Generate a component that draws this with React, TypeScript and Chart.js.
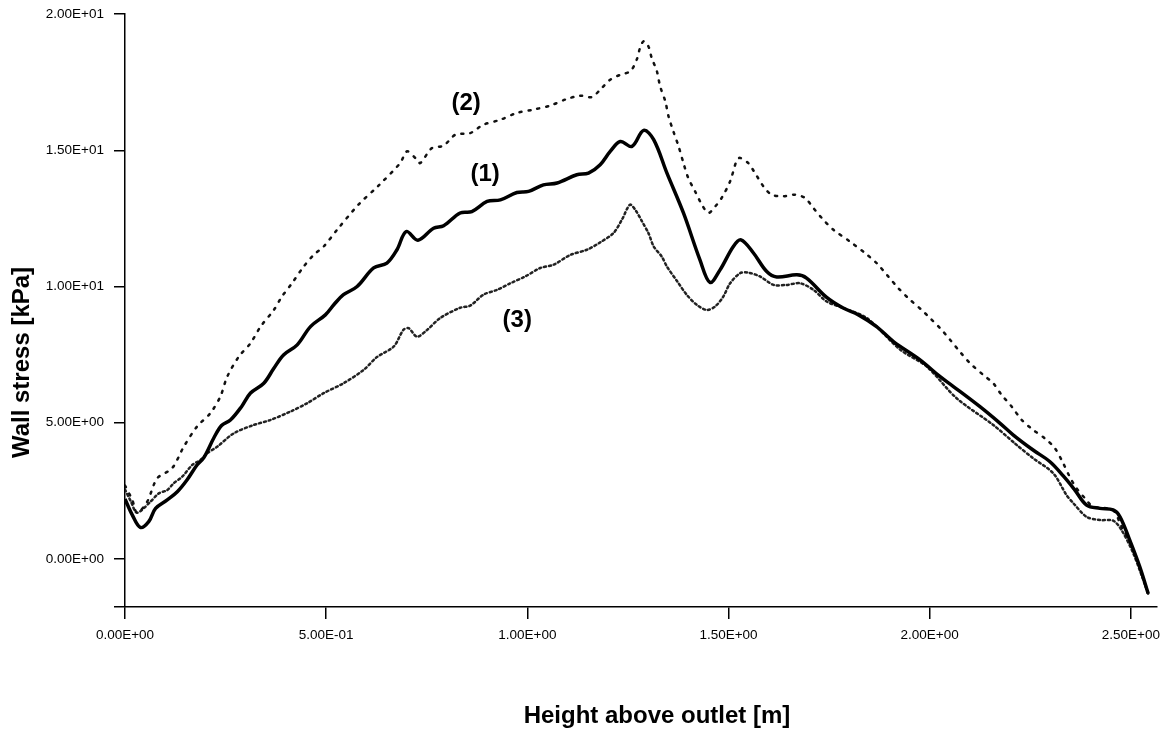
import React, { useEffect, useRef } from "react";
import { Chart, registerables } from "chart.js";

Chart.register(...registerables);

// Curve (1): smooth profile
const height1 = [
  0.0, 0.018, 0.038, 0.059, 0.076, 0.105, 0.13, 0.154, 0.179, 0.196, 0.221, 0.24, 0.262, 0.29, 0.312,
  0.345, 0.37, 0.394, 0.428, 0.461, 0.498, 0.52, 0.543, 0.577, 0.618, 0.651, 0.676, 0.699, 0.728, 0.767,
  0.792, 0.833, 0.862, 0.9, 0.933, 0.974, 1.003, 1.04, 1.074, 1.123, 1.152, 1.181, 1.206, 1.231, 1.26,
  1.289, 1.314, 1.347, 1.388, 1.429, 1.454, 1.479, 1.512, 1.531, 1.562, 1.595, 1.62, 1.67, 1.694, 1.744,
  1.785, 1.823, 1.868, 1.91, 1.976, 2.026, 2.059, 2.125, 2.175, 2.208, 2.257, 2.299, 2.332, 2.36, 2.39,
  2.423, 2.456, 2.473, 2.497, 2.522, 2.543,
];
const stress1 = [
  2.2, 1.62, 1.16, 1.37, 1.86, 2.17, 2.47, 2.9, 3.45, 3.72, 4.45, 4.9, 5.1, 5.6, 6.09,
  6.45, 7.0, 7.49, 7.86, 8.53, 8.96, 9.35, 9.7, 10.0, 10.68, 10.86, 11.35, 12.02, 11.7, 12.14,
  12.23, 12.7, 12.75, 13.12, 13.18, 13.45, 13.49, 13.73, 13.8, 14.1, 14.16, 14.47, 14.96, 15.32, 15.14,
  15.73, 15.39, 14.16, 12.7, 10.98, 10.15, 10.61, 11.47, 11.71, 11.23, 10.55, 10.35, 10.43, 10.31, 9.6,
  9.21, 8.96, 8.53, 7.98, 7.31, 6.69, 6.33, 5.59, 4.98, 4.55, 4.0, 3.57, 3.05, 2.55, 1.98,
  1.86, 1.8, 1.55, 0.7, -0.28, -1.26,
];

// Curve (2): upper dotted profile
const height2 = [
  0.0, 0.018, 0.03, 0.055, 0.08, 0.117, 0.146, 0.179, 0.212, 0.237, 0.254, 0.283, 0.312, 0.337, 0.37,
  0.39, 0.415, 0.444, 0.469, 0.494, 0.527, 0.58, 0.63, 0.684, 0.701, 0.726, 0.734, 0.763, 0.792, 0.821,
  0.858, 0.891, 0.933, 0.974, 1.015, 1.057, 1.098, 1.131, 1.16, 1.181, 1.206, 1.231, 1.256, 1.272, 1.28,
  1.289, 1.301, 1.309, 1.322, 1.33, 1.343, 1.351, 1.363, 1.376, 1.388, 1.4, 1.417, 1.434, 1.45, 1.467,
  1.483, 1.504, 1.521, 1.529, 1.549, 1.566, 1.587, 1.607, 1.636, 1.665, 1.69, 1.711, 1.732, 1.761, 1.802,
  1.839, 1.868, 1.897, 1.922, 1.947, 1.98, 2.001, 2.026, 2.051, 2.075, 2.1, 2.133, 2.158, 2.179, 2.204,
  2.229, 2.257, 2.286, 2.311, 2.332, 2.348, 2.365, 2.386, 2.406, 2.44, 2.46, 2.473, 2.506, 2.543,
];
const stress2 = [
  2.7, 2.17, 1.7, 2.1, 2.96, 3.33, 4.12, 4.86, 5.35, 5.96, 6.69, 7.43, 7.92, 8.53, 9.14,
  9.63, 10.12, 10.73, 11.16, 11.47, 12.08, 13.0, 13.7, 14.53, 14.96, 14.65, 14.53, 15.08, 15.17, 15.57,
  15.63, 15.94, 16.12, 16.37, 16.49, 16.64, 16.88, 17.0, 16.95, 17.22, 17.59, 17.77, 17.9, 18.33, 18.75,
  19.0, 18.81, 18.39, 17.9, 17.35, 16.79, 16.24, 15.69, 15.14, 14.53, 13.98, 13.49, 13.0, 12.7, 12.94,
  13.25, 13.86, 14.65, 14.72, 14.53, 14.16, 13.67, 13.37, 13.31, 13.37, 13.25, 12.88, 12.51, 12.08, 11.65,
  11.23, 10.86, 10.37, 9.94, 9.57, 9.14, 8.84, 8.47, 8.04, 7.61, 7.19, 6.76, 6.45, 6.02, 5.59,
  5.1, 4.74, 4.43, 4.07, 3.51, 3.02, 2.6, 2.23, 1.92, 1.86, 1.74, 1.31, 0.33, -1.26,
];

// Curve (3): lower dotted profile
const height3 = [
  0.0, 0.015, 0.03, 0.063, 0.084, 0.105, 0.121, 0.142, 0.167, 0.188, 0.204, 0.229, 0.27, 0.32, 0.361,
  0.411, 0.453, 0.494, 0.543, 0.593, 0.626, 0.668, 0.692, 0.705, 0.726, 0.751, 0.784, 0.833, 0.858, 0.891,
  0.925, 0.958, 0.995, 1.032, 1.065, 1.107, 1.148, 1.181, 1.214, 1.235, 1.255, 1.268, 1.285, 1.301, 1.314,
  1.334, 1.347, 1.372, 1.396, 1.421, 1.446, 1.467, 1.487, 1.504, 1.529, 1.549, 1.578, 1.612, 1.645, 1.678,
  1.711, 1.744, 1.785, 1.844, 1.927, 1.993, 2.067, 2.158, 2.216, 2.257, 2.307, 2.34, 2.357, 2.39, 2.423,
  2.456, 2.477, 2.506, 2.543,
];
const stress3 = [
  2.55, 2.1, 1.7, 2.1, 2.41, 2.53, 2.78, 3.02, 3.45, 3.64, 3.88, 4.12, 4.61, 4.92, 5.1,
  5.41, 5.72, 6.09, 6.45, 6.94, 7.41, 7.8, 8.41, 8.47, 8.16, 8.41, 8.85, 9.22, 9.3, 9.7,
  9.88, 10.12, 10.37, 10.68, 10.8, 11.16, 11.35, 11.62, 11.96, 12.45, 13.0, 12.82, 12.39, 11.96, 11.47,
  11.1, 10.73, 10.2, 9.7, 9.33, 9.14, 9.27, 9.63, 10.12, 10.49, 10.51, 10.37, 10.06, 10.06, 10.12,
  9.88, 9.45, 9.21, 8.84, 7.68, 7.06, 5.9, 4.92, 4.19, 3.7, 3.15, 2.35, 2.05, 1.55, 1.43,
  1.41, 1.06, 0.21, -1.26,
];

// Axis ticks
const xTicks = [0, 0.5, 1.0, 1.5, 2.0, 2.5];
const yTicks = [0, 5, 10, 15, 20];
const X_MIN = 0;
const X_MAX = 2.565;
const Y_MIN = -1.76;
const Y_MAX = 20;

// Curve tags placed in data units
const curveTags = ["(1)", "(2)", "(3)"];
const tagX = [0.895, 0.848, 0.975];
const tagY = [14.1, 16.71, 8.74];

const xTitle = "Height above outlet [m]";
const yTitle = "Wall stress [kPa]";

const FONT = '"Liberation Sans", Arial, sans-serif';

function sci(v: number): string {
  const [m, e] = v.toExponential(2).split("e");
  const n = parseInt(e, 10);
  return m + "E" + (n < 0 ? "-" : "+") + String(Math.abs(n)).padStart(2, "0");
}

function pts(xs: number[], ys: number[]) {
  return xs.map((x, i) => ({ x, y: ys[i] }));
}

const textPlugin = {
  id: "curveText",
  afterDraw(chart: any) {
    const { ctx, chartArea, scales } = chart;
    ctx.save();
    ctx.fillStyle = "#000";
    ctx.font = `bold 24px ${FONT}`;
    ctx.textAlign = "center";
    ctx.textBaseline = "middle";
    curveTags.forEach((t, i) => {
      ctx.fillText(t, scales.x.getPixelForValue(tagX[i]), scales.y.getPixelForValue(tagY[i]));
    });
    ctx.textBaseline = "alphabetic";
    ctx.fillText(xTitle, (chartArea.left + chartArea.right) / 2 + 16, 723);
    ctx.translate(29, (chartArea.top + chartArea.bottom) / 2 + 52);
    ctx.rotate(-Math.PI / 2);
    ctx.fillText(yTitle, 0, 0);
    ctx.restore();
  },
};

export default function App() {
  const ref = useRef<HTMLCanvasElement | null>(null);

  useEffect(() => {
    if (!ref.current) return;
    const chart = new Chart(ref.current, {
      type: "line",
      data: {
        datasets: [
          {
            label: "(1)",
            data: pts(height1, stress1),
            borderColor: "#000",
            borderWidth: 3.5,
            pointRadius: 0,
            tension: 0.35,
            fill: false,
          },
          {
            label: "(2)",
            data: pts(height2, stress2),
            borderColor: "#111",
            borderWidth: 2.5,
            borderDash: [2, 7],
            borderCapStyle: "round",
            pointRadius: 0,
            tension: 0.3,
            fill: false,
          },
          {
            label: "(3)",
            data: pts(height3, stress3),
            borderColor: "#222",
            borderWidth: 2.5,
            borderDash: [2, 3],
            borderCapStyle: "round",
            pointRadius: 0,
            tension: 0.3,
            fill: false,
          },
        ],
      },
      options: {
        responsive: false,
        animation: false,
        layout: { padding: { top: 14, right: 6, left: 0, bottom: 0 } },
        plugins: {
          legend: { display: false },
          tooltip: { enabled: false },
        },
        scales: {
          x: {
            type: "linear",
            min: X_MIN,
            max: X_MAX,
            afterBuildTicks: (scale: any) => {
              scale.ticks = xTicks.map((v) => ({ value: v }));
            },
            afterFit: (scale: any) => {
              scale.height = 123;
              scale.paddingLeft = 0;
              scale.paddingRight = 0;
            },
            border: { display: true, color: "#000", width: 1.5 },
            grid: {
              display: true,
              drawOnChartArea: false,
              drawTicks: true,
              tickLength: 12,
              color: "#000",
              lineWidth: 1.5,
            },
            ticks: {
              color: "#000",
              font: { family: FONT, size: 13.5 },
              padding: 8,
              autoSkip: false,
              maxRotation: 0,
              callback: (v: any) => sci(Number(v)),
            },
          },
          y: {
            type: "linear",
            min: Y_MIN,
            max: Y_MAX,
            afterBuildTicks: (scale: any) => {
              scale.ticks = [Y_MIN, ...yTicks].map((v) => ({ value: v }));
            },
            afterFit: (scale: any) => {
              scale.width = 125;
              scale.paddingTop = 0;
              scale.paddingBottom = 0;
            },
            border: { display: true, color: "#000", width: 1.5 },
            grid: {
              display: true,
              drawOnChartArea: false,
              drawTicks: true,
              tickLength: 11,
              color: "#000",
              lineWidth: 1.5,
            },
            ticks: {
              color: "#000",
              font: { family: FONT, size: 13.5 },
              padding: 10,
              autoSkip: false,
              callback: (v: any) => (Number(v) === Y_MIN ? "" : sci(Number(v))),
            },
          },
        },
      },
      plugins: [textPlugin],
    } as any);
    return () => chart.destroy();
  }, []);

  return (
    <div style={{ position: "absolute", left: 0, top: 0, width: 1163, height: 730, background: "#fff" }}>
      <canvas ref={ref} width={1163} height={730} style={{ display: "block" }} />
    </div>
  );
}
